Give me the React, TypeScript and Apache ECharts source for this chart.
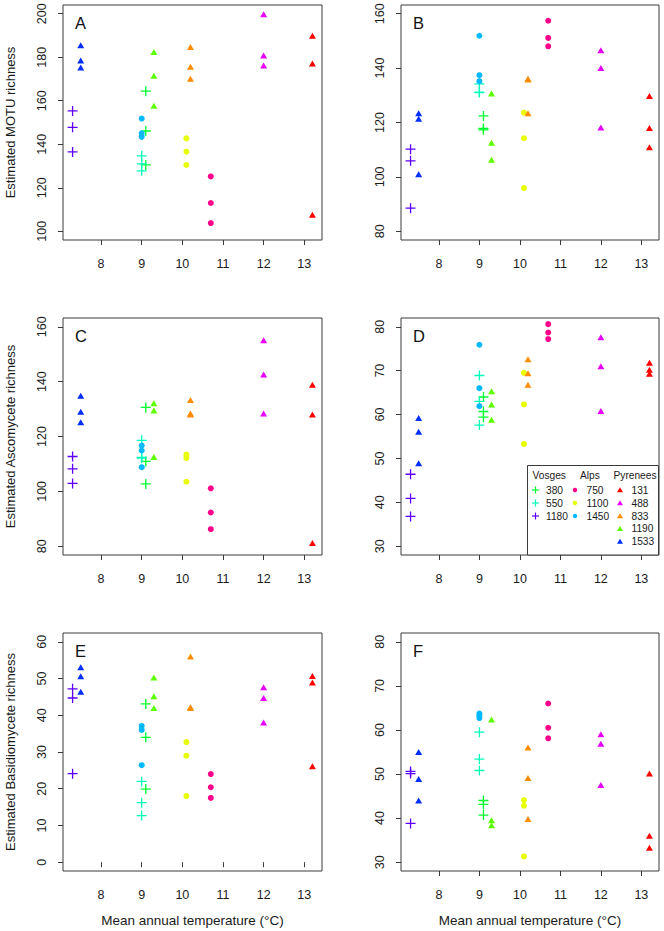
import React, { useEffect, useRef } from 'react';
import * as echarts from 'echarts';

const FONT = '"Liberation Sans", Arial, Helvetica, sans-serif';

// Groups (site elevation) and their mean annual temperature
const GROUP_LABELS = ['380', '550', '1180', '750', '1100', '1450', '131', '488', '833', '1190', '1533'];
const GROUP_REGIONS = ['Vosges', 'Vosges', 'Vosges', 'Alps', 'Alps', 'Alps', 'Pyrenees', 'Pyrenees', 'Pyrenees', 'Pyrenees', 'Pyrenees'];
const GROUP_TEMPS = [9.1, 9.0, 7.3, 10.7, 10.1, 9.0, 13.2, 12.0, 10.2, 9.3, 7.5];
const GROUP_COLORS = ['#00FF2E', '#00FFB9', '#5D00FF', '#FF008B', '#E8FF00', '#00B9FF', '#FF0000', '#E800FF', '#FF8B00', '#5DFF00', '#002EFF'];

const X_TICKS = [8, 9, 10, 11, 12, 13];
const X_RANGE = [7.3, 13.2];

// A: Estimated MOTU richness
const MOTU_A = [
  [164.4, 146.1, 130.5],
  [134.7, 131.0, 127.8],
  [155.3, 147.8, 136.5],
  [125.2, 113.0, 103.8],
  [142.7, 136.6, 130.5],
  [151.8, 145.0, 143.4],
  [189.9, 177.1, 107.6],
  [199.8, 180.8, 176.2],
  [184.7, 175.6, 170.1],
  [182.4, 171.5, 157.7],
  [185.5, 178.5, 175.3],
];
const Y_TICKS_A = [100, 120, 140, 160, 180, 200];

// B
const MOTU_B = [
  [122.4, 117.8, 117.3],
  [134.2, 131.2, 131.0],
  [110.2, 105.9, 88.5],
  [157.4, 151.1, 148.0],
  [123.6, 114.2, 95.9],
  [151.9, 137.4, 135.2],
  [129.7, 118.0, 110.9],
  [146.6, 140.0, 118.2],
  [136.1, 135.8, 123.4],
  [130.7, 112.6, 106.3],
  [123.4, 121.4, 101.0],
];
const Y_TICKS_B = [80, 100, 120, 140, 160];

// C: Estimated Ascomycete richness
const ASCO_C = [
  [130.6, 110.9, 102.7],
  [118.6, 112.1, 112.4],
  [112.7, 108.2, 102.9],
  [101.1, 92.3, 86.2],
  [113.4, 112.2, 103.5],
  [116.7, 114.9, 108.8],
  [138.9, 128.0, 81.2],
  [155.1, 142.6, 128.4],
  [133.3, 128.4, 128.0],
  [132.1, 129.5, 112.5],
  [134.9, 129.0, 125.2],
];
const Y_TICKS_C = [80, 100, 120, 140, 160];

// D
const ASCO_D = [
  [64.0, 60.7, 59.4],
  [68.9, 63.0, 57.6],
  [46.4, 40.9, 36.8],
  [80.6, 78.7, 77.2],
  [69.5, 62.3, 53.3],
  [75.9, 66.0, 61.9],
  [71.8, 70.2, 69.3],
  [77.6, 71.0, 60.8],
  [72.6, 69.4, 66.8],
  [65.3, 62.3, 58.8],
  [59.2, 56.1, 48.9],
];
const Y_TICKS_D = [30, 40, 50, 60, 70, 80];

// E: Estimated Basidiomycete richness
const BASI_E = [
  [43.1, 34.0, 19.9],
  [22.0, 16.2, 12.7],
  [47.2, 44.7, 24.1],
  [24.0, 20.4, 17.5],
  [32.7, 29.0, 18.0],
  [37.1, 36.0, 26.4],
  [50.7, 48.9, 26.1],
  [47.6, 44.7, 38.0],
  [56.0, 42.2, 42.0],
  [50.3, 45.2, 42.0],
  [53.1, 50.6, 46.4],
];
const Y_TICKS_E = [0, 10, 20, 30, 40, 50, 60];

// F
const BASI_F = [
  [44.0, 43.1, 40.7],
  [59.5, 53.4, 50.8],
  [50.6, 50.1, 38.8],
  [66.0, 60.5, 58.1],
  [44.1, 42.8, 31.3],
  [63.7, 63.2, 62.7],
  [50.1, 36.0, 33.3],
  [59.0, 56.9, 47.5],
  [56.0, 49.1, 39.8],
  [62.4, 39.5, 38.4],
  [55.0, 48.9, 44.0],
];
const Y_TICKS_F = [30, 40, 50, 60, 70, 80];

const PLUS_PATH =
  'path://M4.35,0L5.65,0L5.65,4.35L10,4.35L10,5.65L5.65,5.65L5.65,10L4.35,10L4.35,5.65L0,5.65L0,4.35L4.35,4.35Z';

function symbolFor(region: string) {
  if (region === 'Vosges') return { symbol: PLUS_PATH, size: 10 };
  if (region === 'Alps') return { symbol: 'circle', size: 6 };
  return { symbol: 'triangle', size: [7, 6] };
}

const LEFT_COL = 63;
const RIGHT_COL = 401;

export default function App() {
  const ref = useRef<HTMLDivElement>(null);

  useEffect(() => {
    if (!ref.current) return;
    const chart = echarts.init(ref.current, null, { renderer: 'svg' });

    const panels = [
      { letter: 'A', data: MOTU_A, ticks: Y_TICKS_A, title: 'Estimated MOTU richness', left: LEFT_COL, top: 5, width: 259, height: 235, xTitle: false },
      { letter: 'B', data: MOTU_B, ticks: Y_TICKS_B, title: '', left: RIGHT_COL, top: 5, width: 258, height: 235, xTitle: false },
      { letter: 'C', data: ASCO_C, ticks: Y_TICKS_C, title: 'Estimated Ascomycete richness', left: LEFT_COL, top: 318, width: 259, height: 237, xTitle: false },
      { letter: 'D', data: ASCO_D, ticks: Y_TICKS_D, title: '', left: RIGHT_COL, top: 318, width: 258, height: 237, xTitle: false },
      { letter: 'E', data: BASI_E, ticks: Y_TICKS_E, title: 'Estimated Basidiomycete richness', left: LEFT_COL, top: 633, width: 259, height: 238, xTitle: true },
      { letter: 'F', data: BASI_F, ticks: Y_TICKS_F, title: '', left: RIGHT_COL, top: 633, width: 258, height: 238, xTitle: true },
    ];

    const xSpan = X_RANGE[1] - X_RANGE[0];
    const xMin = X_RANGE[0] - 0.04 * xSpan;
    const xMax = X_RANGE[1] + 0.04 * xSpan;

    const grids: any[] = [];
    const xAxes: any[] = [];
    const yAxes: any[] = [];
    const series: any[] = [];
    const graphics: any[] = [];

    const tickStyle = { color: '#3a3a3a', width: 1 };
    const labelBase = { color: '#1a1a1a', fontFamily: FONT, fontSize: 12.5 };

    panels.forEach((p, i) => {
      const yLo = p.ticks[0];
      const yHi = p.ticks[p.ticks.length - 1];
      const ySpan = yHi - yLo;
      grids.push({
        left: p.left, top: p.top, width: p.width, height: p.height,
        show: true, borderColor: '#3a3a3a', borderWidth: 1, backgroundColor: 'transparent',
        containLabel: false,
      });
      xAxes.push({
        type: 'value', gridIndex: i, min: xMin, max: xMax,
        axisLine: { show: false },
        axisTick: { show: true, length: 5, lineStyle: tickStyle, customValues: X_TICKS },
        axisLabel: { ...labelBase, margin: 17, customValues: X_TICKS },
        splitLine: { show: false },
        name: p.xTitle ? 'Mean annual temperature (°C)' : '',
        nameLocation: 'middle',
        nameGap: 42,
        nameTextStyle: { color: '#1a1a1a', fontFamily: FONT, fontSize: 13.5 },
      });
      yAxes.push({
        type: 'value', gridIndex: i, min: yLo - 0.04 * ySpan, max: yHi + 0.04 * ySpan,
        axisLine: { show: false },
        axisTick: { show: true, length: 5, lineStyle: tickStyle, customValues: p.ticks },
        axisLabel: { show: false },
        splitLine: { show: false },
        name: p.title,
        nameLocation: 'middle',
        nameGap: 46,
        nameTextStyle: { color: '#1a1a1a', fontFamily: FONT, fontSize: 13 },
      });
      GROUP_LABELS.forEach((g, gi) => {
        const sym = symbolFor(GROUP_REGIONS[gi]);
        series.push({
          type: 'scatter',
          name: `${p.letter}-${GROUP_REGIONS[gi]}-${g}`,
          xAxisIndex: i, yAxisIndex: i,
          symbol: sym.symbol, symbolSize: sym.size,
          itemStyle: { color: GROUP_COLORS[gi], opacity: 1 },
          data: p.data[gi].map((v) => [GROUP_TEMPS[gi], v]),
          silent: true,
        });
      });
      graphics.push({
        type: 'text', x: p.left + 12, y: p.top + 18,
        style: { text: p.letter, fill: '#111', fontFamily: FONT, fontSize: 16.5, align: 'left', verticalAlign: 'middle' },
      });
    });

    // Legend box in panel D
    const lgX = 527.5, lgY = 465.5, lgW = 131, lgH = 89.5;
    graphics.push({
      type: 'rect', shape: { x: lgX, y: lgY, width: lgW, height: lgH },
      style: { fill: '#fff', stroke: '#3a3a3a', lineWidth: 1 }, z: 10,
    });
    const legendFont = { fontFamily: FONT, fontSize: 10.2, fill: '#1a1a1a' };
    const headers = [
      { t: 'Vosges', x: 532.5 },
      { t: 'Alps', x: 580 },
      { t: 'Pyrenees', x: 613.5 },
    ];
    headers.forEach((h) => {
      graphics.push({ type: 'text', x: h.x, y: 475, z: 11, style: { ...legendFont, text: h.t, align: 'left', verticalAlign: 'middle' } });
    });
    const colSym = { Vosges: 535.5, Alps: 575, Pyrenees: 620 } as Record<string, number>;
    const colTxt = { Vosges: 546, Alps: 586.5, Pyrenees: 631.5 } as Record<string, number>;
    const rowY = [490, 503, 516, 528.7, 541.5];
    const rowIdx: Record<string, number> = { Vosges: 0, Alps: 0, Pyrenees: 0 };
    GROUP_LABELS.forEach((g, gi) => {
      const region = GROUP_REGIONS[gi];
      const y = rowY[rowIdx[region]++];
      const sx = colSym[region];
      const c = GROUP_COLORS[gi];
      if (region === 'Vosges') {
        graphics.push({ type: 'line', z: 11, shape: { x1: sx - 3.5, y1: y, x2: sx + 3.5, y2: y }, style: { stroke: c, lineWidth: 1.2 } });
        graphics.push({ type: 'line', z: 11, shape: { x1: sx, y1: y - 3.5, x2: sx, y2: y + 3.5 }, style: { stroke: c, lineWidth: 1.2 } });
      } else if (region === 'Alps') {
        graphics.push({ type: 'circle', z: 11, shape: { cx: sx, cy: y, r: 2.2 }, style: { fill: c } });
      } else {
        graphics.push({ type: 'polygon', z: 11, shape: { points: [[sx, y - 2.8], [sx - 3, y + 2.2], [sx + 3, y + 2.2]] }, style: { fill: c } });
      }
      graphics.push({ type: 'text', z: 11, x: colTxt[region], y, style: { ...legendFont, text: g, align: 'left', verticalAlign: 'middle' } });
    });

    chart.setOption({
      animation: false,
      backgroundColor: '#ffffff',
      textStyle: { fontFamily: FONT },
      grid: grids,
      xAxis: xAxes,
      yAxis: yAxes,
      series,
    });

    // Y tick labels, rotated (read bottom-to-top), positioned through the axis scale
    panels.forEach((p, i) => {
      p.ticks.forEach((t) => {
        const py = chart.convertToPixel({ yAxisIndex: i }, t) as unknown as number;
        graphics.push({
          type: 'text',
          x: p.left - 21.5,
          y: py,
          rotation: Math.PI / 2,
          style: { text: String(t), fill: '#1a1a1a', fontFamily: FONT, fontSize: 12.5, align: 'center', verticalAlign: 'middle' },
        });
      });
    });

    chart.setOption({ graphic: graphics });

    return () => chart.dispose();
  }, []);

  return (
    <div
      ref={ref}
      style={{ position: 'absolute', left: 0, top: 0, width: 664, height: 931, background: '#fff' }}
    />
  );
}
